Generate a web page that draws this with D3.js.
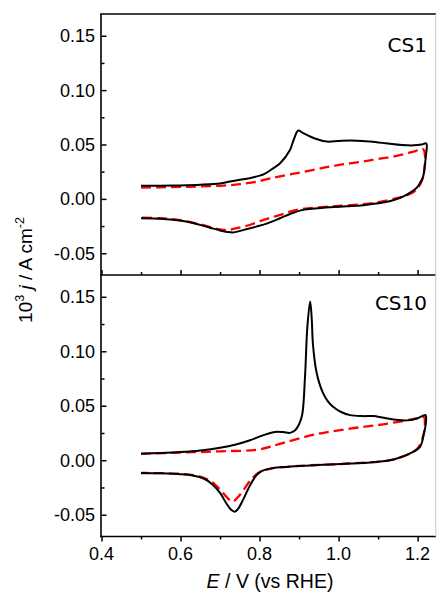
<!DOCTYPE html>
<html>
<head>
<meta charset="utf-8">
<script src="https://cdn.jsdelivr.net/npm/d3@7"></script>
<style>
  html, body { margin: 0; padding: 0; background: #fff; }
  svg { display: block; }
  text { font-family: "Liberation Sans", Arial, sans-serif; fill: #000; }
</style>
</head>
<body>
<svg id="chart" width="437" height="593"></svg>
<script>
// Potential axis ticks
const xTicks = [0.4, 0.6, 0.8, 1.0, 1.2];
const xMinor = [0.5, 0.7, 0.9, 1.1];
// Current-density axis ticks (both panels)
const yTicks = [-0.05, 0.00, 0.05, 0.10, 0.15];
const yMinor = [-0.025, 0.025, 0.075, 0.125];
const yTickLabels = ["-0.05", "0.00", "0.05", "0.10", "0.15"];

// CS1: first cycle (solid) and later cycle (dashed), E / V and 10^3 j / A cm^-2
const cs1SolidE = [0.50,0.55,0.60,0.65,0.70,0.725,0.75,0.78,0.81,0.83,0.852,0.877,0.888,0.898,0.91,0.94,0.97,1.00,1.03,1.06,1.08,1.11,1.13,1.16,1.19,1.21,1.222,
  1.221,1.218,1.214,1.205,1.197,1.18,1.163,1.14,1.112,1.062,1.02,0.978,0.94,0.91,0.88,0.852,0.82,0.792,0.76,0.735,0.725,0.70,0.675,0.649,0.62,0.582,0.55,0.50];
const cs1SolidJ = [0.0120,0.0121,0.0124,0.0130,0.0142,0.0159,0.0175,0.0195,0.0225,0.0270,0.0328,0.0450,0.0560,0.0628,0.0605,0.0555,0.0527,0.0532,0.0536,0.0533,0.0527,0.0515,0.0506,0.0495,0.0492,0.0500,0.0510,
  0.0400,0.0300,0.0205,0.0140,0.0100,0.0055,0.0020,-0.0010,-0.0034,-0.0058,-0.0068,-0.0077,-0.0088,-0.0101,-0.0135,-0.0178,-0.0225,-0.0255,-0.0285,-0.0308,-0.0307,-0.0290,-0.0265,-0.0239,-0.0212,-0.0193,-0.0182,-0.0178];
const cs1DashE = [0.50,0.55,0.60,0.65,0.708,0.75,0.792,0.83,0.877,0.93,0.978,1.02,1.062,1.10,1.147,1.19,1.214,
  1.219,1.218,1.212,1.197,1.175,1.147,1.10,1.062,0.978,0.894,0.85,0.81,0.775,0.742,0.72,0.70,0.65,0.60,0.55,0.50];
const cs1DashJ = [0.0104,0.0107,0.0110,0.0114,0.0122,0.0135,0.0158,0.0190,0.0225,0.0262,0.0297,0.0322,0.0343,0.0368,0.0395,0.0435,0.0457,
  0.0380,0.0300,0.0180,0.0083,0.0035,0.0006,-0.0030,-0.0049,-0.0071,-0.0101,-0.0150,-0.0193,-0.0240,-0.0270,-0.0285,-0.0280,-0.0235,-0.0195,-0.0178,-0.0172];

// CS10: first cycle (solid) and later cycle (dashed)
const cs10SolidE = [0.50,0.55,0.60,0.65,0.70,0.74,0.776,0.81,0.839,0.86,0.877,0.89,0.90,0.908,0.915,0.921,0.928,0.932,0.935,0.943,0.951,0.961,0.972,0.986,1.005,1.029,1.06,1.088,1.11,1.139,1.16,1.18,1.20,1.22,
  1.221,1.216,1.206,1.18,1.155,1.13,1.08,1.029,0.96,0.902,0.86,0.826,0.805,0.792,0.776,0.76,0.745,0.737,0.728,0.715,0.70,0.68,0.66,0.63,0.60,0.55,0.50];
const cs10SolidJ = [0.0060,0.0066,0.0075,0.0090,0.0115,0.0145,0.0184,0.0230,0.0260,0.0258,0.0251,0.0275,0.0330,0.0420,0.0766,0.1226,0.1456,0.1300,0.1070,0.0828,0.0710,0.0613,0.0545,0.0490,0.0445,0.0414,0.0405,0.0405,0.0392,0.0374,0.0366,0.0368,0.0385,0.0414,
  0.0350,0.0245,0.0123,0.0061,0.0025,0.0000,-0.0020,-0.0030,-0.0042,-0.0052,-0.0063,-0.0077,-0.0100,-0.0138,-0.0230,-0.0350,-0.0450,-0.0472,-0.0455,-0.0390,-0.0300,-0.0220,-0.0170,-0.0140,-0.0128,-0.0120,-0.0117];
const cs10DashE = [0.50,0.60,0.70,0.796,0.86,0.943,1.029,1.113,1.197,1.215,
  1.218,1.212,1.20,1.18,1.13,1.03,0.90,0.83,0.80,0.78,0.76,0.745,0.732,0.72,0.70,0.68,0.65,0.60,0.50];
const cs10DashJ = [0.0061,0.0070,0.0082,0.0098,0.0159,0.0239,0.0290,0.0330,0.0383,0.0400,
  0.0300,0.0200,0.0110,0.0061,0.0000,-0.0030,-0.0052,-0.0077,-0.0110,-0.0170,-0.0270,-0.0340,-0.0380,-0.0350,-0.0270,-0.0200,-0.0150,-0.0125,-0.0117];

const panelNames = ["CS1", "CS10"];

const svg = d3.select("#chart");
const left = 101.5, right = 436;
const x = d3.scaleLinear().domain([0.4, 1.2465]).range([left, right]);

const panels = [
  { name: panelNames[0], top: 14, bottom: 275, solid: [cs1SolidE, cs1SolidJ], dash: [cs1DashE, cs1DashJ] },
  { name: panelNames[1], top: 275, bottom: 536.5, solid: [cs10SolidE, cs10SolidJ], dash: [cs10DashE, cs10DashJ] }
];

const zip = (a, b) => a.map((v, i) => [v, b[i]]);

panels.forEach((p, pi) => {
  const y = d3.scaleLinear().domain([-0.07, 0.17]).range([p.bottom, p.top]);
  const g = svg.append("g");

  const line = d3.line()
    .x(d => x(d[0]))
    .y(d => y(d[1]))
    .curve(d3.curveCatmullRom.alpha(0.5));

  g.append("path")
    .datum(zip(p.dash[0], p.dash[1]))
    .attr("d", line)
    .attr("fill", "none")
    .attr("stroke", "#ff0000")
    .attr("stroke-width", 2.3)
    .attr("stroke-dasharray", "10,5");

  g.append("path")
    .datum(zip(p.solid[0], p.solid[1]))
    .attr("d", line)
    .attr("fill", "none")
    .attr("stroke", "#000")
    .attr("stroke-width", 2);

  // y axis: inward ticks, labels on the left
  const yAxis = d3.axisRight(y).tickValues(yTicks).tickSize(5).tickFormat("");
  const ya = g.append("g").attr("transform", `translate(${left},0)`).call(yAxis);
  ya.select(".domain").remove();
  ya.selectAll("line").attr("stroke-width", 1.5);
  const yAxisMinor = d3.axisRight(y).tickValues(yMinor).tickSize(3).tickFormat("");
  const ym = g.append("g").attr("transform", `translate(${left},0)`).call(yAxisMinor);
  ym.select(".domain").remove();
  ym.selectAll("line").attr("stroke-width", 1.5);

  g.selectAll("text.ylab")
    .data(yTicks)
    .join("text")
    .attr("class", "ylab")
    .attr("x", 95)
    .attr("y", d => y(d))
    .attr("dy", "0.36em")
    .attr("text-anchor", "end")
    .attr("font-size", 18)
    .text((d, i) => yTickLabels[i]);

  // x ticks along the bottom edge of the panel
  const inward = pi === 0;
  const xAx = (inward ? d3.axisTop(x) : d3.axisBottom(x)).tickValues(xTicks).tickSize(5).tickFormat("");
  const xa = g.append("g").attr("transform", `translate(0,${p.bottom})`).call(xAx);
  xa.select(".domain").remove();
  xa.selectAll("line").attr("stroke-width", 1.5);
  const xAxMinor = (inward ? d3.axisTop(x) : d3.axisBottom(x)).tickValues(xMinor).tickSize(3).tickFormat("");
  const xm = g.append("g").attr("transform", `translate(0,${p.bottom})`).call(xAxMinor);
  xm.select(".domain").remove();
  xm.selectAll("line").attr("stroke-width", 1.5);

  g.append("text")
    .attr("x", 427)
    .attr("y", pi === 0 ? 51.5 : 310)
    .attr("text-anchor", "end")
    .style("font-family", "'DejaVu Sans', Verdana, sans-serif")
    .attr("font-size", 20)
    .text(p.name);
});

// frame
const frame = svg.append("g").attr("fill", "none");
frame.append("line").attr("x1", 101).attr("x2", 101).attr("y1", 14).attr("y2", 537.3).attr("stroke", "#000").attr("stroke-width", 1.6);
[14, 275, 536.5].forEach(yy => {
  frame.append("line").attr("x1", 100.2).attr("x2", 436).attr("y1", yy).attr("y2", yy).attr("stroke", "#000").attr("stroke-width", 1.6);
});
frame.append("line").attr("x1", 435.8).attr("x2", 435.8).attr("y1", 14).attr("y2", 536.5).attr("stroke", "#c8c8c8").attr("stroke-width", 1);

// x tick labels
svg.selectAll("text.xlab")
  .data(xTicks)
  .join("text")
  .attr("class", "xlab")
  .attr("x", d => x(d))
  .attr("y", 560)
  .attr("text-anchor", "middle")
  .attr("font-size", 18)
  .text(d => d.toFixed(1));

// axis titles
const xt = svg.append("text")
  .attr("x", 270)
  .attr("y", 588)
  .attr("text-anchor", "middle")
  .attr("font-size", 19.5);
xt.append("tspan").attr("font-style", "italic").text("E");
xt.append("tspan").text(" / V (vs RHE)");

const yt = svg.append("text")
  .attr("transform", "translate(32,270) rotate(-90)")
  .attr("text-anchor", "middle")
  .attr("font-size", 19);
yt.append("tspan").text("10");
yt.append("tspan").attr("dy", -8).attr("font-size", 12.5).text("3");
yt.append("tspan").attr("dy", 8).text(" ");
yt.append("tspan").attr("font-style", "italic").text("j");
yt.append("tspan").text(" / A cm");
yt.append("tspan").attr("dy", -8).attr("font-size", 12.5).text("-2");
</script>
</body>
</html>
